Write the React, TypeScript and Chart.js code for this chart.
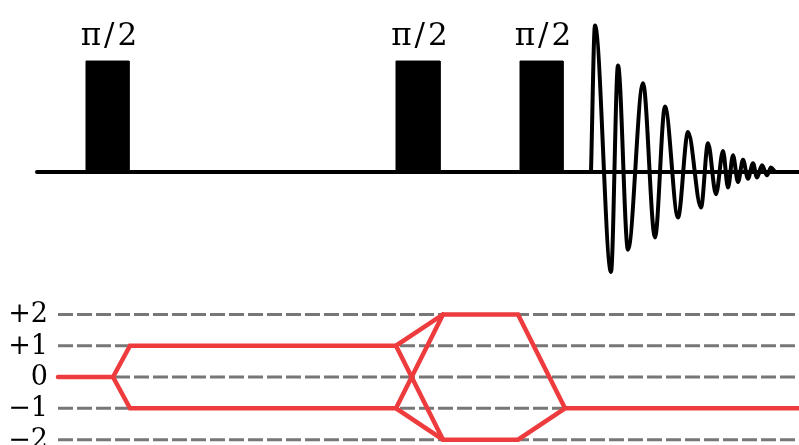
import React, { useEffect, useRef } from "react";
import { Chart, registerables } from "chart.js";

Chart.register(...registerables);

// Pulse sequence (time axis in arbitrary units)
const pulseStarts = [86, 396, 520];
const pulseEnds = [129, 440, 563];
const pulseLabels = ["π/2", "π/2", "π/2"];
const pulseHeight = 1;
const baselineSpan = [37, 799];

// Free induction decay: successive extrema of the detected signal
const fidTimes = [591, 595, 611, 618, 628, 643, 655, 665, 678, 688, 701, 708, 716, 723, 728, 733, 738, 743, 748, 753, 757, 762, 767, 771, 775];
const fidAmps = [0, 1.32, -0.9, 0.96, -0.7, 0.8, -0.59, 0.59, -0.41, 0.36, -0.32, 0.26, -0.2, 0.19, -0.14, 0.15, -0.09, 0.11, -0.06, 0.08, -0.05, 0.06, -0.03, 0.04, 0];

// Coherence transfer pathway diagram
const coherenceLevels = [2, 1, 0, -1, -2];
const levelLabels = ["+2", "+1", "0", "−1", "−2"];
const gridSpan = [58, 799];

const upperPathTimes = [58, 113, 130, 396, 443, 518, 565, 799];
const upperPathOrders = [0, 0, 1, 1, 2, 2, -1, -1];
const lowerPathTimes = [113, 130, 396, 443, 518, 565];
const lowerPathOrders = [0, -1, -1, -2, -2, -1];
const crossDownTimes = [396, 443];
const crossDownOrders = [1, -2];
const crossUpTimes = [396, 443];
const crossUpOrders = [-1, 2];

const RED = "#EE3B3D";
const FONT = "'DejaVu Serif', serif";

const pts = (xs: number[], ys: number[]) => xs.map((x, i) => ({ x, y: ys[i] }));

const labelPlugin = {
  id: "diagramLabels",
  afterDatasetsDraw(chart: any) {
    const { ctx, scales } = chart;
    const x = scales.x;
    const yP = scales.yP;
    const yC = scales.yC;
    ctx.save();
    ctx.fillStyle = "#000";
    // pulse flip-angle labels
    ctx.font = `31px ${FONT}`;
    ctx.textAlign = "center";
    ctx.textBaseline = "alphabetic";
    (ctx as any).letterSpacing = "3px";
    pulseLabels.forEach((lab, i) => {
      const cx = x.getPixelForValue((pulseStarts[i] + pulseEnds[i]) / 2) + 3;
      const top = yP.getPixelForValue(pulseHeight);
      ctx.fillText(lab, cx, top - 16);
    });
    // coherence order labels
    (ctx as any).letterSpacing = "0px";
    ctx.font = `27px ${FONT}`;
    ctx.textAlign = "right";
    ctx.textBaseline = "middle";
    coherenceLevels.forEach((lvl, i) => {
      ctx.fillText(levelLabels[i], 48, yC.getPixelForValue(lvl) + 1);
    });
    ctx.restore();
  },
};

export default function App() {
  const ref = useRef<HTMLCanvasElement>(null);

  useEffect(() => {
    if (!ref.current) return;
    const datasets: any[] = [];

    // dashed coherence-level lines
    coherenceLevels.forEach((lvl) => {
      datasets.push({
        data: pts(gridSpan, [lvl, lvl]),
        yAxisID: "yC",
        borderColor: "#777777",
        borderWidth: 3,
        borderDash: [15, 4],
        pointRadius: 0,
        order: 10,
      });
    });

    // pathways
    const paths = [
      [upperPathTimes, upperPathOrders],
      [lowerPathTimes, lowerPathOrders],
      [crossDownTimes, crossDownOrders],
      [crossUpTimes, crossUpOrders],
    ];
    paths.forEach(([t, p]) => {
      datasets.push({
        data: pts(t, p),
        yAxisID: "yC",
        borderColor: RED,
        borderWidth: 4.5,
        borderJoinStyle: "miter",
        borderCapStyle: "round",
        pointRadius: 0,
        order: 1,
      });
    });

    // pulses
    pulseStarts.forEach((s, i) => {
      const e = pulseEnds[i];
      datasets.push({
        data: pts([s, s, e, e], [0, pulseHeight, pulseHeight, 0]),
        yAxisID: "yP",
        borderColor: "#000",
        backgroundColor: "#000",
        borderWidth: 1,
        fill: "origin",
        pointRadius: 0,
        order: 3,
      });
    });

    // baseline
    datasets.push({
      data: pts(baselineSpan, [0, 0]),
      yAxisID: "yP",
      borderColor: "#000",
      borderWidth: 4,
      borderCapStyle: "round",
      pointRadius: 0,
      order: 4,
    });

    // FID
    datasets.push({
      data: pts(fidTimes, fidAmps),
      yAxisID: "yP",
      borderColor: "#000",
      borderWidth: 4,
      borderJoinStyle: "round",
      cubicInterpolationMode: "monotone",
      pointRadius: 0,
      order: 2,
    });

    const chart = new Chart(ref.current, {
      type: "line",
      data: { datasets },
      options: {
        animation: false,
        responsive: false,
        clip: false as any,
        layout: { padding: 0 },
        plugins: { legend: { display: false }, tooltip: { enabled: false } },
        scales: {
          x: { type: "linear", min: 0, max: 799, display: false },
          yP: { type: "linear", min: -2.46, max: 1.55, display: false },
          yC: { type: "linear", min: -2.17, max: 12.04, display: false },
        },
      },
      plugins: [labelPlugin],
    });
    return () => chart.destroy();
  }, []);

  return (
    <div style={{ position: "fixed", left: 0, top: 0, width: 799, height: 445, background: "#fff" }}>
      <canvas ref={ref} width={799} height={445} style={{ display: "block" }} />
    </div>
  );
}
